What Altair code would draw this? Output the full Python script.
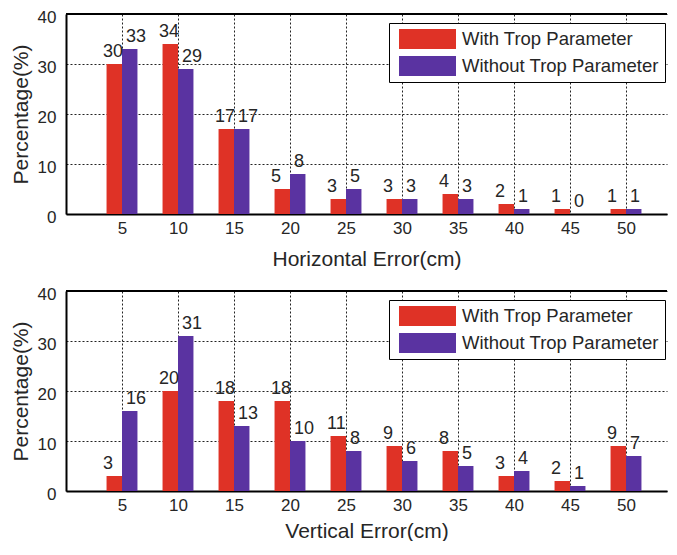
import altair as alt
import pandas as pd

# ---- data ----
bins = [5, 10, 15, 20, 25, 30, 35, 40, 45, 50]
h_with = [30, 34, 17, 5, 3, 3, 4, 2, 1, 1]
h_without = [33, 29, 17, 8, 5, 3, 3, 1, 0, 1]
v_with = [3, 20, 18, 18, 11, 9, 8, 3, 2, 9]
v_without = [16, 31, 13, 10, 8, 6, 5, 4, 1, 7]
series = ["With Trop Parameter", "Without Trop Parameter"]
colors = ["#DF3226", "#5A33A1"]
y_ticks = [0, 10, 20, 30, 40]
x_titles = ["Horizontal Error(cm)", "Vertical Error(cm)"]

# ---- style ----
BAR_W = 1.38          # bar width in x-data units
W, H = 601, 200
X_MAX = W / 11.2      # 11.2 px per cm, as in the reference
FONT = "Liberation Sans"
TXT = "#262626"


def make_df(a, b):
    rows = []
    for i, (s, vals) in enumerate(zip(series, [a, b])):
        for k, v in zip(bins, vals):
            rows.append({"bin": k, "series": s, "idx": i, "value": v})
    return pd.DataFrame(rows)


def panel(a, b, xtitle, title_pad):
    df = make_df(a, b)
    base = alt.Chart(df).transform_calculate(
        x0=f"datum.bin - {BAR_W} + datum.idx * {BAR_W}",
        x1=f"datum.bin + datum.idx * {BAR_W}",
    )
    xs = alt.Scale(domain=[0, X_MAX], nice=False, zero=False)
    ys = alt.Scale(domain=[0, 40], nice=False)
    xaxis = alt.Axis(values=bins, title=xtitle, grid=True, ticks=False,
                     labelPadding=6, titlePadding=title_pad)
    yaxis = alt.Axis(values=y_ticks, title="Percentage(%)", grid=True, ticks=False,
                     labelPadding=10, titlePadding=6, labelOffset=3)
    bars = base.mark_bar().encode(
        x=alt.X("x0:Q", scale=xs, axis=xaxis),
        x2="x1:Q",
        y=alt.Y("value:Q", scale=ys, axis=yaxis),
        y2=alt.datum(0),
        color=alt.Color(
            "series:N",
            scale=alt.Scale(domain=series, range=colors),
            legend=alt.Legend(
                title=None, orient="none", legendX=323, legendY=9,
                direction="vertical",
                symbolType="M-1,-0.351L1,-0.351L1,0.351L-1,0.351Z",
                symbolSize=3249, symbolStrokeWidth=0, symbolOpacity=1,
                symbolOffset=4,
                clipHeight=20, rowPadding=7, labelOffset=6,
                labelFontSize=18.5, labelFont=FONT, labelColor=TXT,
                labelLimit=400,
                padding=6, strokeColor="black", fillColor="white",
            ),
        ),
    )
    lab_with = base.transform_filter("datum.idx == 0").mark_text(
        align="left", baseline="bottom", dx=-3.5, dy=-3, fontSize=18, font=FONT, color=TXT
    ).encode(x=alt.X("x0:Q", scale=xs), y=alt.Y("value:Q", scale=ys), text="value:Q")
    lab_without = base.transform_filter("datum.idx == 1").mark_text(
        align="left", baseline="bottom", dx=4, dy=-3, fontSize=18, font=FONT, color=TXT
    ).encode(x=alt.X("x0:Q", scale=xs), y=alt.Y("value:Q", scale=ys), text="value:Q")
    top = alt.Chart(pd.DataFrame({"top": [y_ticks[-1]]})).mark_rule(
        color="black", strokeWidth=2
    ).encode(y=alt.Y("top:Q", scale=ys))
    return alt.layer(bars, lab_with, lab_without, top).properties(width=W, height=H)


chart = alt.vconcat(
    panel(h_with, h_without, x_titles[0], 12),
    panel(v_with, v_without, x_titles[1], 7),
    spacing=16,
).resolve_scale(color="independent").configure(
    padding={"left": 2, "top": 0, "right": 0, "bottom": 0}, background="white"
).configure_view(stroke=None).configure_axis(
    labelFont=FONT, labelFontSize=17, labelColor=TXT,
    titleFont=FONT, titleFontSize=21, titleColor=TXT, titleFontWeight="normal",
    gridColor="#222222", gridDash=[2, 2], gridWidth=1, gridOpacity=1,
    domainColor="black", domainWidth=2,
)

chart.save("out.html", embed_options={"renderer": "svg", "actions": False})
